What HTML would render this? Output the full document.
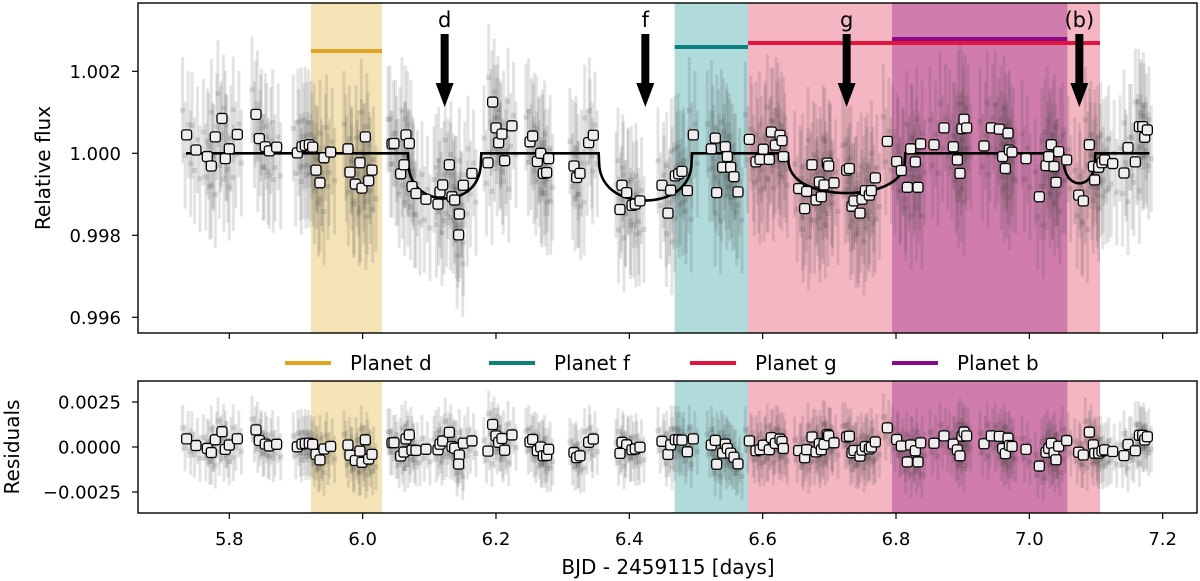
<!DOCTYPE html>
<html><head><meta charset="utf-8">
<style>
html,body{margin:0;padding:0;background:#fff;}
svg{display:block;font-family:"DejaVu Sans","Liberation Sans",sans-serif;}
</style></head>
<body>
<svg id="chart" width="1200" height="581" viewBox="0 0 1200 581"></svg>
<script>
// ---- data ----
const binTimes = [5.736,5.750,5.767,5.773,5.779,5.789,5.794,5.800,5.812,5.840,5.845,5.854,5.860,5.871,5.902,5.909,5.914,5.920,5.925,5.930,5.936,5.942,5.952,5.978,5.981,5.989,5.996,5.999,6.004,6.009,6.014,6.044,6.047,6.057,6.062,6.065,6.070,6.074,6.080,6.095,6.113,6.116,6.120,6.130,6.134,6.138,6.145,6.144,6.151,6.164,6.188,6.195,6.200,6.204,6.209,6.213,6.224,6.251,6.255,6.262,6.267,6.271,6.276,6.279,6.317,6.321,6.326,6.339,6.346,6.389,6.396,6.386,6.404,6.409,6.416,6.449,6.458,6.462,6.469,6.474,6.479,6.487,6.496,6.523,6.529,6.531,6.540,6.544,6.547,6.552,6.557,6.563,6.580,6.590,6.596,6.601,6.610,6.613,6.619,6.626,6.629,6.631,6.654,6.663,6.666,6.674,6.680,6.685,6.688,6.692,6.697,6.699,6.707,6.726,6.730,6.734,6.737,6.746,6.749,6.754,6.760,6.763,6.769,6.787,6.801,6.808,6.817,6.822,6.829,6.833,6.837,6.857,6.872,6.886,6.892,6.896,6.899,6.902,6.906,6.932,6.943,6.955,6.960,6.964,6.968,6.970,6.974,6.995,7.015,7.025,7.029,7.033,7.037,7.040,7.044,7.056,7.074,7.081,7.090,7.096,7.098,7.104,7.109,7.113,7.125,7.142,7.148,7.159,7.165,7.170,7.173,7.177];
const binFlux = [1.00045,1.00008,0.99992,0.99969,1.00040,1.00085,0.99987,1.00011,1.00046,1.00095,1.00036,1.00016,1.00006,1.00015,1.00001,1.00016,1.00019,1.00021,1.00015,0.99959,0.99928,0.99989,1.00003,1.00011,0.99954,0.99925,0.99977,0.99915,1.00040,0.99933,0.99959,1.00023,1.00024,0.99950,0.99972,1.00045,1.00024,0.99919,0.99902,0.99888,0.99876,0.99906,0.99923,0.99972,0.99894,0.99886,0.99852,0.99801,0.99922,0.99951,0.99977,1.00125,1.00062,1.00026,1.00047,0.99982,1.00067,1.00028,1.00042,0.99980,1.00000,0.99951,0.99953,0.99987,0.99969,0.99941,0.99951,1.00026,1.00044,0.99922,0.99904,0.99863,0.99873,0.99876,0.99884,0.99922,0.99854,0.99910,0.99945,0.99950,0.99956,0.99909,1.00045,1.00011,1.00037,0.99904,0.99966,1.00016,0.99992,0.99966,0.99943,0.99906,1.00034,0.99979,0.99985,1.00010,0.99985,1.00052,1.00020,1.00044,1.00031,0.99992,0.99914,0.99865,0.99907,0.99972,0.99886,0.99930,0.99894,0.99923,0.99976,0.99969,0.99928,0.99959,0.99963,0.99871,0.99884,0.99854,0.99888,0.99909,0.99898,0.99909,0.99940,1.00029,0.99980,0.99958,0.99917,1.00011,0.99979,0.99917,1.00023,1.00021,1.00062,1.00016,0.99984,0.99951,1.00060,1.00083,1.00062,1.00018,1.00062,1.00059,0.99992,0.99963,1.00049,1.00008,1.00003,0.99987,0.99894,0.99970,0.99992,1.00021,0.99968,0.99929,1.00004,0.99984,0.99898,0.99884,1.00021,0.99968,0.99935,0.99966,0.99977,0.99984,0.99975,0.99952,1.00014,0.99979,1.00065,1.00065,1.00039,1.00057];
const planetNames = ["d","f","g","b"];
const arrowLabels = ["d","f","g","(b)"];
const transitCenters = [6.123,6.424,6.726,7.075];
const transitHalfWidths = [0.055,0.070,0.088,0.024];
const transitDepths = [0.00110,0.00115,0.00097,0.00073];
const bandStarts = [5.9225,6.468,6.578,6.794];
const bandEnds = [6.029,6.578,7.106,7.057];
const xTicks = [5.8,6.0,6.2,6.4,6.6,6.8,7.0,7.2];
const xTickLabels = ["5.8","6.0","6.2","6.4","6.6","6.8","7.0","7.2"];
const yTicks = [0.996,0.998,1.000,1.002];
const yTickLabels = ["0.996","0.998","1.000","1.002"];
const rTicks = [-0.0025,0,0.0025];
const rTickLabels = ["\u22120.0025","0.0000","0.0025"];
const modelStart = 5.735, modelEnd = 7.18;

// ---- styles ----
const bandFill = ["#f4e3b6","#b1dada","#f4b6c2","#d07dad"];
const lineColor = ["#e0a422","#0d8080","#e0163e","#8a0a8a"];
const lineY = [51,47,43,39];

const NS="http://www.w3.org/2000/svg";
const svg=document.getElementById('chart');
function el(tag,attrs,parent){const e=document.createElementNS(NS,tag);for(const k in attrs)e.setAttribute(k,attrs[k]);(parent||svg).appendChild(e);return e;}
const X0=138,X1=1197,T0=3,B0=333,T1=381,B1=513;
function xs(t){return 229.3+(t-5.8)*666.7;}
function ys(f){return 153.3-(f-1)*41000;}
function yr(r){return 447-r*18000;}
function model(t){let m=1;for(let i=0;i<transitCenters.length;i++){const z=(t-transitCenters[i])/transitHalfWidths[i];if(Math.abs(z)<1)m-=transitDepths[i]*Math.pow(1-z*z,0.35);}return m;}

const defs=el('defs',{});
const c1=el('clipPath',{id:'clipMain'},defs);el('rect',{x:X0,y:T0,width:X1-X0,height:B0-T0},c1);
const c2=el('clipPath',{id:'clipRes'},defs);el('rect',{x:X0,y:T1,width:X1-X0,height:B1-T1},c2);

function panel(top,bottom,clip,yfun,valfun,name){
  const g=el('g',{'clip-path':'url(#'+clip+')'});
  
  
  for(let i=0;i<bandStarts.length;i++){
    const r=el('rect',{x:xs(bandStarts[i]),y:top,width:xs(bandEnds[i])-xs(bandStarts[i]),height:bottom-top,fill:bandFill[i]},g);
    
    
  }
  const offs=[[-4,0.6],[-1.5,-0.5],[1.5,0.25],[4,-0.7]];
  const raw=el('g',{},g);
  
  
  for(let i=0;i<binTimes.length;i++){
    const x=xs(binTimes[i]);const v=valfun(i);
    for(const o of offs){
      const c=v+o[1]*0.001;
      const y1=yfun(c+0.0013),y2=yfun(c-0.0013);
      el('line',{x1:x+o[0],x2:x+o[0],y1:y1,y2:y2,stroke:'#444','stroke-opacity':0.15,'stroke-width':3},raw);
      el('rect',{x:x+o[0]-2.5,y:yfun(c)-2.5,width:5,height:5,fill:'#333','fill-opacity':0.15},raw);
    }
  }
  return g;
}
const gMain=panel(T0,B0,'clipMain',ys,i=>binFlux[i],'flux-panel');
for(let i=0;i<bandStarts.length;i++){
  const l=el('line',{x1:xs(bandStarts[i]),x2:xs(bandEnds[i]),y1:lineY[i],y2:lineY[i],stroke:lineColor[i],'stroke-width':4},gMain);
  
  
}
let d='';for(let t=modelStart;t<=modelEnd+1e-9;t+=0.001){d+=(d?'L':'M')+xs(t).toFixed(2)+','+ys(model(t)).toFixed(2);}
const mp=el('path',{d:d,fill:'none',stroke:'#000','stroke-width':2.6},gMain);


for(let i=0;i<binTimes.length;i++){
  const r=el('rect',{x:xs(binTimes[i])-5,y:ys(binFlux[i])-5,width:10,height:10,rx:2.5,fill:'#efeded',stroke:'#000','stroke-width':1.3},gMain);
  
  
}
for(let i=0;i<transitCenters.length;i++){
  const x=xs(transitCenters[i]);
  const a=el('g',{},gMain);
  
  
  el('rect',{x:x-4,y:34,width:8,height:52,fill:'#000'},a);
  el('polygon',{points:(x-9)+',83 '+(x+9)+',83 '+x+',107',fill:'#000'},a);
  const t=el('text',{x:x,y:27,'text-anchor':'middle','font-size':21,fill:'#000'},a);
  t.textContent=arrowLabels[i];
}
const gRes=panel(T1,B1,'clipRes',yr,i=>binFlux[i]-model(binTimes[i]),'residuals-panel');
for(let i=0;i<binTimes.length;i++){
  const r=el('rect',{x:xs(binTimes[i])-5,y:yr(binFlux[i]-model(binTimes[i]))-5,width:10,height:10,rx:2.5,fill:'#efeded',stroke:'#000','stroke-width':1.3},gRes);
  
  
}
for(const [t,b,n] of [[T0,B0,'flux-axes-frame'],[T1,B1,'residuals-axes-frame']]){
  const f=el('rect',{x:X0,y:t,width:X1-X0,height:b-t,fill:'none',stroke:'#000','stroke-width':1.4});
  
  
}
for(let i=0;i<xTicks.length;i++){
  const x=xs(xTicks[i]);
  el('line',{x1:x,x2:x,y1:B0,y2:B0+6,stroke:'#000','stroke-width':1.2});
  el('line',{x1:x,x2:x,y1:B1,y2:B1+6,stroke:'#000','stroke-width':1.2});
  const t=el('text',{x:x,y:545,'text-anchor':'middle','font-size':18,fill:'#000'});
  
  
  t.textContent=xTickLabels[i];
}
for(let i=0;i<yTicks.length;i++){
  const y=ys(yTicks[i]);
  el('line',{x1:X0-6,x2:X0,y1:y,y2:y,stroke:'#000','stroke-width':1.2});
  const t=el('text',{x:X0-17,y:y+6.5,'text-anchor':'end','font-size':18,fill:'#000'});
  
  
  t.textContent=yTickLabels[i];
}
for(let i=0;i<rTicks.length;i++){
  const y=yr(rTicks[i]);
  el('line',{x1:X0-6,x2:X0,y1:y,y2:y,stroke:'#000','stroke-width':1.2});
  const t=el('text',{x:X0-17,y:y+6.5,'text-anchor':'end','font-size':18,fill:'#000'});
  
  
  t.textContent=rTickLabels[i];
}
let tt=el('text',{x:0,y:0,transform:'translate(50,168) rotate(-90)','text-anchor':'middle','font-size':20,fill:'#000'});
tt.textContent='Relative flux';
tt=el('text',{x:0,y:0,transform:'translate(19,447) rotate(-90)','text-anchor':'middle','font-size':20,fill:'#000'});
tt.textContent='Residuals';
tt=el('text',{x:668,y:574,'text-anchor':'middle','font-size':20,fill:'#000'});
tt.textContent='BJD - 2459115 [days]';
const legX=[285,489,690,892];
for(let i=0;i<planetNames.length;i++){
  const g=el('g',{});
  
  
  el('line',{x1:legX[i],x2:legX[i]+46,y1:363,y2:363,stroke:lineColor[i],'stroke-width':4},g);
  const t=el('text',{x:legX[i]+65,y:370,'font-size':20,fill:'#000'},g);
  t.textContent='Planet '+planetNames[i];
}
</script>
</body></html>
